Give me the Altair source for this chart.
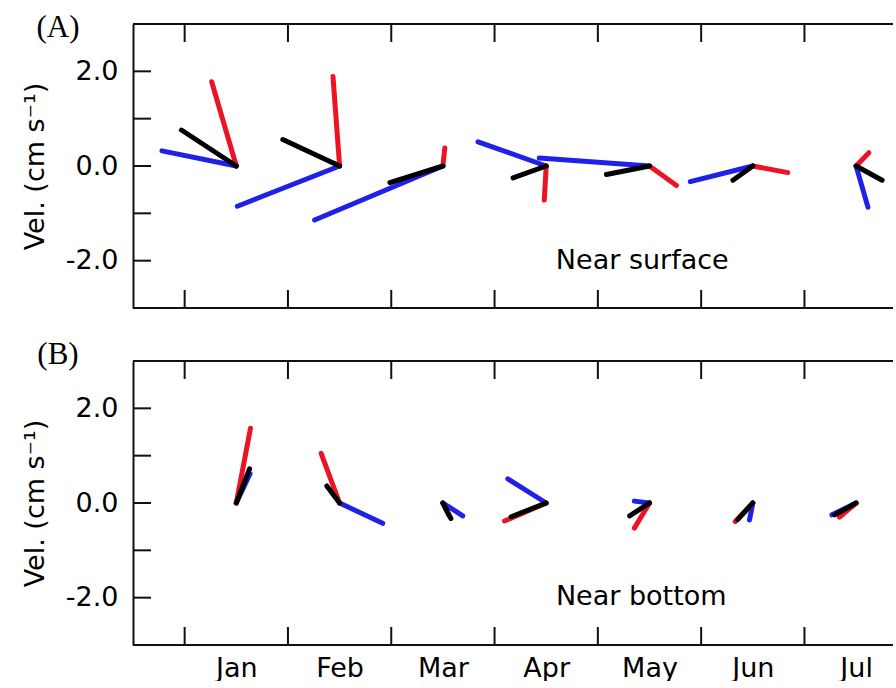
import altair as alt
import pandas as pd

# ---------------- data ----------------
MONTHS = ["Jan", "Feb", "Mar", "Apr", "May", "Jun", "Jul"]
MONTH_POS = [1, 2, 3, 4, 5, 6, 7]
TICK_POS = [0.5, 1.5, 2.5, 3.5, 4.5, 5.5, 6.5]
Y_TICKS = [-2, -1, 0, 1, 2]
Y_LABELS = [-2, 0, 2]

# Near surface (u = east, v = north, cm/s)
surf_black_u = [-1.16, -1.20, -1.12, -0.70, -0.91, -0.42, 0.55]
surf_black_v = [0.76, 0.56, -0.35, -0.25, -0.18, -0.30, -0.30]
surf_red_u = [-0.52, -0.14, 0.04, -0.04, 0.57, 0.74, 0.27]
surf_red_v = [1.78, 1.89, 0.38, -0.72, -0.41, -0.14, 0.28]
surf_blue_u = [-1.57, -2.16, -2.71, -1.44, -2.33, -1.32, 0.25]
surf_blue_v = [0.32, -0.85, -1.14, 0.51, 0.17, -0.33, -0.87]

# Near bottom
bot_black_u = [0.28, -0.27, 0.17, -0.74, -0.42, -0.32, -0.45]
bot_black_v = [0.72, 0.36, -0.33, -0.29, -0.27, -0.35, -0.25]
bot_red_u = [0.30, -0.39, 0.12, -0.88, -0.32, -0.37, -0.35]
bot_red_v = [1.58, 1.05, -0.25, -0.38, -0.53, -0.39, -0.30]
bot_blue_u = [0.29, 0.91, 0.42, -0.81, -0.32, -0.07, -0.51]
bot_blue_v = [0.62, -0.43, -0.27, 0.51, 0.04, -0.36, -0.25]

# ---------------- layout ----------------
W = 760
H = 284
PX_PER_MONTH = 103.3
XMAX = W / PX_PER_MONTH
YMIN, YMAX = -3, 3
STICK = (H / (YMAX - YMIN)) / PX_PER_MONTH  # same px per cm/s on both axes

SANS = "DejaVu Sans"
SERIF = "Liberation Serif"
FS = 27
FRAME = "#111111"
COLORS = {"blue": "#2020e8", "red": "#ec1424", "black": "#000000"}


def sticks(bu, bv, ru, rv, ku, kv):
    rows = []
    for name, us, vs in (("blue", bu, bv), ("red", ru, rv), ("black", ku, kv)):
        for m, u, v in zip(MONTH_POS, us, vs):
            rows.append({"series": name, "x0": m, "x1": m + u * STICK,
                         "y0": 0.0, "y1": v})
    return pd.DataFrame(rows)


x_scale = alt.Scale(domain=[0, XMAX], nice=False, zero=False)
y_scale = alt.Scale(domain=[YMIN, YMAX], nice=False, zero=False)

month_expr = "[" + ",".join("'%s'" % m for m in MONTHS) + "][datum.value - 1]"
y_label_expr = ("datum.value < 0 ? '-' + format(-datum.value, '.1f') : "
                "format(datum.value, '.1f')")


def y_axis():
    return alt.Axis(values=Y_LABELS, labelExpr=y_label_expr, ticks=False,
                    grid=False, domain=True, domainColor=FRAME, domainWidth=2,
                    labelFont=SANS, labelFontSize=FS, labelColor="black",
                    labelPadding=15, title="Vel. (cm s\u207b\u00b9)",
                    titleFont=SANS, titleFontSize=FS, titleFontWeight="normal",
                    titleColor="black", titlePadding=16)


def x_axis(show):
    if not show:
        return None
    return alt.Axis(values=MONTH_POS, labelExpr=month_expr, ticks=False,
                    grid=False, domain=False, labelFont=SANS, labelFontSize=FS,
                    labelColor="black", labelPadding=10, title=None)


def panel(df, tag, tag_y, note, note_xy, show_x):
    xa = x_axis(show_x)
    ya = y_axis()
    one = pd.DataFrame({"d": [0]})

    stick_layer = alt.Chart(df).mark_rule(strokeWidth=5, strokeCap="round").encode(
        x=alt.X("x0:Q", scale=x_scale, axis=xa),
        x2="x1:Q",
        y=alt.Y("y0:Q", scale=y_scale, axis=ya),
        y2="y1:Q",
        color=alt.Color("series:N", legend=None,
                        scale=alt.Scale(domain=list(COLORS.keys()),
                                        range=list(COLORS.values()))),
    )

    xt = pd.DataFrame({"t": TICK_POS})
    top_ticks = alt.Chart(xt).mark_rule(color=FRAME, strokeWidth=2).encode(
        x=alt.X("t:Q", scale=x_scale, axis=xa),
        y=alt.value(0), y2=alt.value(18))
    bot_ticks = alt.Chart(xt).mark_rule(color=FRAME, strokeWidth=2).encode(
        x=alt.X("t:Q", scale=x_scale, axis=xa),
        y=alt.value(H - 18), y2=alt.value(H))

    yt = pd.DataFrame({"t": Y_TICKS})
    y_ticks = alt.Chart(yt).mark_rule(color=FRAME, strokeWidth=2).encode(
        y=alt.Y("t:Q", scale=y_scale, axis=ya),
        x=alt.value(0), x2=alt.value(18))

    top_line = alt.Chart(one).mark_rule(color=FRAME, strokeWidth=2).encode(
        x=alt.value(0), x2=alt.value(W), y=alt.value(0))
    bot_line = alt.Chart(one).mark_rule(color=FRAME, strokeWidth=2).encode(
        x=alt.value(0), x2=alt.value(W), y=alt.value(H))

    nd = pd.DataFrame({"x": [note_xy[0]], "y": [note_xy[1]], "text": [note]})
    note_layer = alt.Chart(nd).mark_text(font=SANS, fontSize=FS, color="black",
                                         align="center", baseline="middle").encode(
        x=alt.X("x:Q", scale=x_scale, axis=xa),
        y=alt.Y("y:Q", scale=y_scale, axis=ya),
        text="text:N")

    tag_layer = alt.Chart(one).mark_text(font=SERIF, fontSize=31, color="black",
                                         align="center", baseline="middle").encode(
        x=alt.value(-75), y=alt.value(tag_y), text=alt.value(tag))

    return alt.layer(y_ticks, top_ticks, bot_ticks, top_line, bot_line,
                     stick_layer, note_layer, tag_layer).properties(width=W, height=H)


surf = sticks(surf_blue_u, surf_blue_v, surf_red_u, surf_red_v,
              surf_black_u, surf_black_v)
bot = sticks(bot_blue_u, bot_blue_v, bot_red_u, bot_red_v,
             bot_black_u, bot_black_v)

A = panel(surf, "(A)", 4, "Near surface", (4.93, -2.0), False)
B = panel(bot, "(B)", -6, "Near bottom", (4.92, -1.98), True)

chart = alt.vconcat(A, B, spacing=30).properties(
    padding={"left": 21, "top": 12, "right": 0, "bottom": 0},
    background="white",
).configure_view(stroke=None)

chart.save("out.html", embed_options={"renderer": "svg", "actions": False})
